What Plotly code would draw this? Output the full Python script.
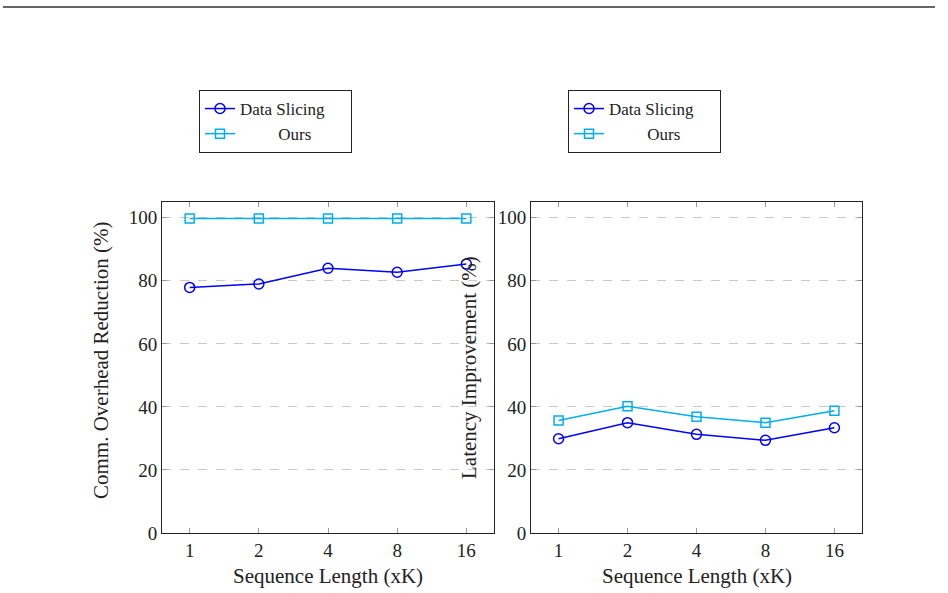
import plotly.graph_objects as go

seq_labels = ["1", "2", "4", "8", "16"]
comm_data_slicing = [77.9, 79.0, 84.0, 82.7, 85.3]
comm_ours = [99.8, 99.8, 99.8, 99.8, 99.8]
lat_data_slicing = [29.9, 35.0, 31.3, 29.4, 33.4]
lat_ours = [35.7, 40.2, 36.9, 35.0, 38.8]

BLUE = "#0000ff"
CYAN = "#00aeef"
FONT = "Liberation Serif"
W, H = 948, 593

fig = go.Figure()

def add_pair(ds, ours, xa, ya, leg):
    fig.add_trace(go.Scatter(x=seq_labels, y=ds, name="Data Slicing     ", mode="lines+markers",
                             line=dict(color=BLUE, width=1.5),
                             marker=dict(symbol="circle-open", size=10, color=BLUE, line=dict(width=1.5)),
                             xaxis=xa, yaxis=ya, legend=leg))
    fig.add_trace(go.Scatter(x=seq_labels, y=ours, name="         Ours", mode="lines+markers",
                             line=dict(color=CYAN, width=1.5),
                             marker=dict(symbol="square-open", size=9, color=CYAN, line=dict(width=1.5)),
                             xaxis=xa, yaxis=ya, legend=leg))

add_pair(comm_data_slicing, comm_ours, "x", "y", "legend")
add_pair(lat_data_slicing, lat_ours, "x2", "y2", "legend2")

ydom = [(H - 533) / H, (H - 202) / H]
axis_common = dict(showline=True, linecolor="#222222", linewidth=1, mirror="ticks",
                   ticks="inside", ticklen=5, tickcolor="#999999", tickwidth=1,
                   tickfont=dict(family=FONT, size=19, color="#222222"), zeroline=False)

xcommon = dict(axis_common, type="category", range=[-0.4, 4.4], showgrid=False)
ycommon = dict(axis_common, range=[0, 105], tickvals=[0, 20, 40, 60, 80, 100],
               showgrid=True, gridcolor="#c8c8c8", griddash="dash", gridwidth=1)

legend_common = dict(xanchor="left", yanchor="top",
                     bordercolor="#222222", borderwidth=1, bgcolor="white",
                     font=dict(family=FONT, size=17, color="#222222"),
                     tracegroupgap=0, itemwidth=30)

fig.update_layout(
    width=W, height=H, margin=dict(l=0, r=0, t=0, b=0, autoexpand=False),
    paper_bgcolor="white", plot_bgcolor="white",
    font=dict(family=FONT, size=19, color="#222222"),
    xaxis=dict(xcommon, domain=[162 / W, 494 / W], anchor="y"),
    yaxis=dict(ycommon, domain=ydom, anchor="x"),
    xaxis2=dict(xcommon, domain=[531 / W, 862 / W], anchor="y2"),
    yaxis2=dict(ycommon, domain=ydom, anchor="x2"),
    legend=dict(legend_common, x=199 / W, y=1 - 90 / H),
    legend2=dict(legend_common, x=568 / W, y=1 - 90 / H),
    showlegend=True,
)

annos = [
    dict(text="Comm. Overhead Reduction (%)", x=101 / W, y=(H - 360) / H, textangle=-90),
    dict(text="Latency Improvement (%)", x=469 / W, y=(H - 368) / H, textangle=-90),
    dict(text="Sequence Length (xK)", x=328 / W, y=(H - 576) / H),
    dict(text="Sequence Length (xK)", x=697 / W, y=(H - 576) / H),
]
for a in annos:
    fig.add_annotation(xref="paper", yref="paper", showarrow=False,
                       xanchor="center", yanchor="middle",
                       font=dict(family=FONT, size=21, color="#222222"), **a)

fig.add_shape(type="line", xref="paper", yref="paper",
              x0=3 / W, x1=935 / W, y0=1 - 7 / H, y1=1 - 7 / H,
              line=dict(color="#333333", width=1.5))

fig.write_html("out.html")
